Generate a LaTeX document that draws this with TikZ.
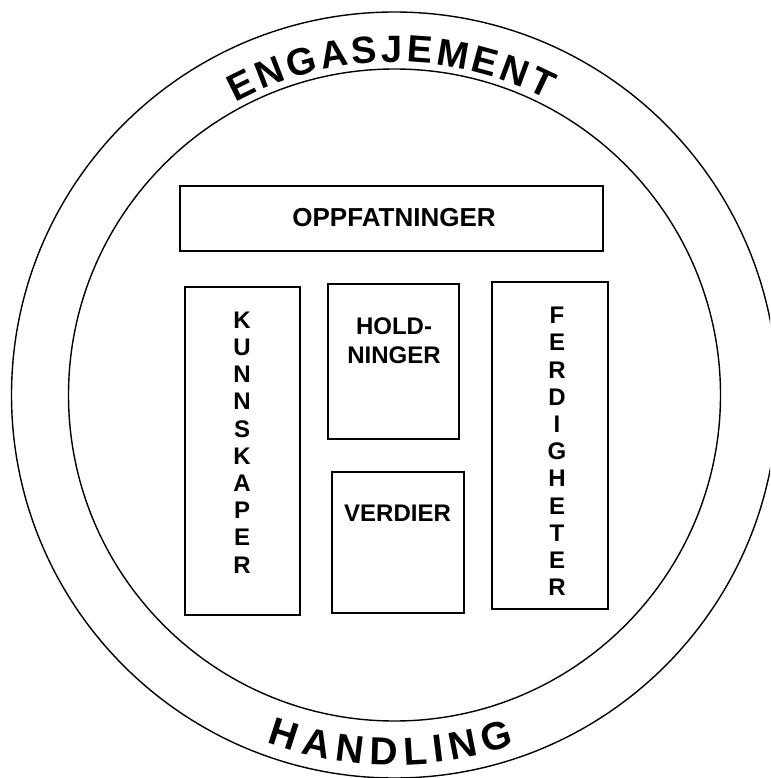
\documentclass[tikz,border=0pt]{standalone}
\usepackage{fontspec}
\setmainfont{Liberation Sans}
\begin{document}
\begin{tikzpicture}[x=1pt,y=-1pt,
  ring/.style={line width=1.4pt},
  boxline/.style={line width=1.3pt},
  toplet/.style={font=\fontsize{38}{38}\selectfont\bfseries, inner sep=0pt, anchor=base},
  botlet/.style={font=\fontsize{39}{39}\selectfont\bfseries, inner sep=0pt, anchor=base},
  lbl/.style={font=\fontsize{24}{27}\selectfont\bfseries, inner sep=0pt, align=center},
  stack/.style={font=\fontsize{24}{27.2}\selectfont\bfseries, inner sep=0pt, align=center}]
\useasboundingbox (0,0) rectangle (770,778);
\clip (0,0) rectangle (770,778);
\fill[white] (0,0) rectangle (770,778);
\coordinate (c) at (394.5,395);
% circles
\draw[ring] (c) circle[radius=383pt];
\draw[ring] (c) circle[radius=326pt];
% curved titles
\foreach \ch/\a [count=\i] in {E/-26.3,N/-21.15,G/-15.65,A/-10.15,S/-5.0,J/-0.38,E/4.24,M/9.74,E/15.24,N/20.39,T/25.36}
  \node[toplet, rotate=-\a] (t\i) at ({394.5+333*sin(\a)},{395-333*cos(\a)}) {\ch};
\foreach \ch/\a [count=\i] in {H/-18.0,A/-12.58,N/-7.16,D/-1.74,L/3.33,I/7.0,N/11.02,G/16.61}
  \node[botlet, rotate=\a] (b\i) at ({394.5+370*sin(\a)},{395+370*cos(\a)}) {\ch};
% boxes
\draw[boxline] (180,186) rectangle (603,251);
\draw[boxline] (185,287) rectangle (300,615);
\draw[boxline] (328,284) rectangle (459,439);
\draw[boxline] (332,472) rectangle (464,613);
\draw[boxline] (492,282) rectangle (608,609);
% labels
\node[lbl, font=\fontsize{26}{28}\selectfont\bfseries] (opp) at (394,218) {OPPFATNINGER};
\node[stack] (kun) at (242,442.5) {K\\U\\N\\N\\S\\K\\A\\P\\E\\R};
\node[stack] (fer) at (557,451.5) {F\\E\\R\\D\\I\\G\\H\\E\\T\\E\\R};
\node[lbl, font=\fontsize{24}{28.5}\selectfont\bfseries] (hold) at (394,340.5) {HOLD-\\NINGER};
\node[lbl] (ver) at (397.5,513.5) {VERDIER};
\end{tikzpicture}
\end{document}
